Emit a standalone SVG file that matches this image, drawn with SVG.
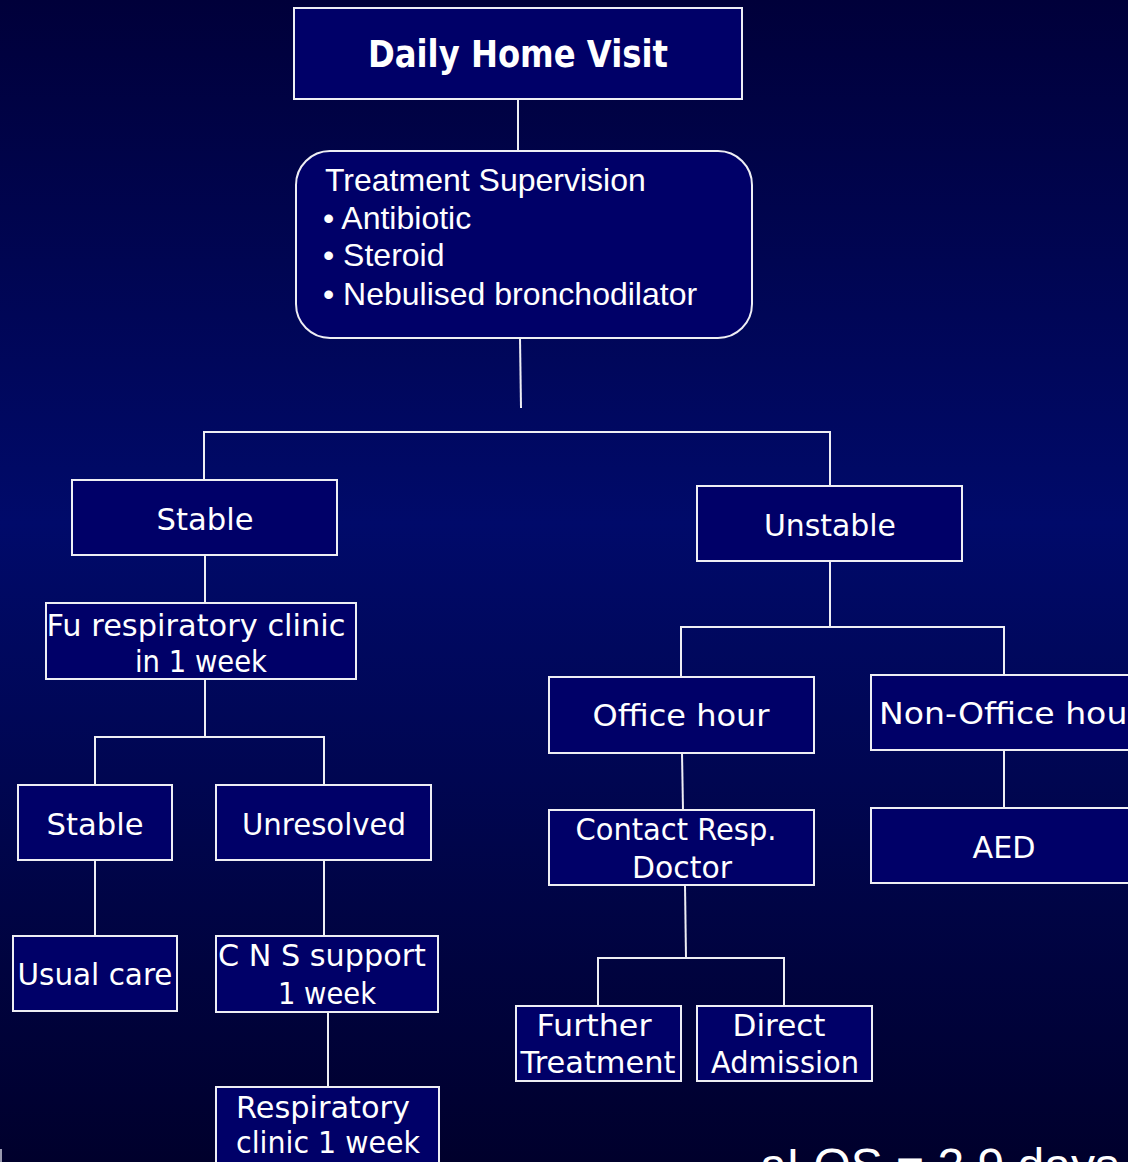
<svg xmlns="http://www.w3.org/2000/svg" width="1128" height="1162" viewBox="0 0 1128 1162">
<defs>
<linearGradient id="bg" x1="0" y1="0" x2="0" y2="1">
<stop offset="0" stop-color="#00003a"/>
<stop offset="0.45" stop-color="#000a6a"/>
<stop offset="1" stop-color="#00002c"/>
</linearGradient>
<style>
.box{fill:#000068;stroke:#eeeef4;stroke-width:2}
.lbl{font-family:"Comic Sans MS","DejaVu Sans",sans-serif;font-size:31px;fill:#ffffff;text-anchor:middle}
.title{font-family:"Comic Sans MS","DejaVu Sans",sans-serif;font-size:37px;font-weight:bold;fill:#ffffff;text-anchor:middle}
.ar{font-family:"Liberation Sans",Arial,sans-serif;font-size:32px;fill:#ffffff}
.ln{stroke:#eeeef4;stroke-width:2;fill:none}
</style>
</defs>
<rect x="0" y="0" width="1128" height="1162" fill="url(#bg)"/>

<g id="connectors">
<line class="ln" x1="518" y1="99" x2="518" y2="151"/>
<line class="ln" x1="520" y1="338" x2="521" y2="408"/>
<polyline class="ln" points="204,480 204,432 830,432 830,486"/>
<line class="ln" x1="205" y1="555" x2="205" y2="603"/>
<line class="ln" x1="205" y1="679" x2="205" y2="737"/>
<polyline class="ln" points="95,785 95,737 324,737 324,785"/>
<line class="ln" x1="95" y1="860" x2="95" y2="936"/>
<line class="ln" x1="324" y1="860" x2="324" y2="936"/>
<line class="ln" x1="328" y1="1012" x2="328" y2="1087"/>
<line class="ln" x1="830" y1="561" x2="830" y2="627"/>
<polyline class="ln" points="681,677 681,627 1004,627 1004,675"/>
<line class="ln" x1="1004" y1="750" x2="1004" y2="808"/>
<line class="ln" x1="682" y1="753" x2="683" y2="810"/>
<line class="ln" x1="685" y1="885" x2="686" y2="958"/>
<polyline class="ln" points="598,1006 598,958 784,958 784,1006"/>
</g>

<g id="daily-home-visit">
<rect class="box" x="294" y="8" width="448" height="91"/>
<text class="title" x="518" y="67" textLength="300" lengthAdjust="spacingAndGlyphs">Daily Home Visit</text>
</g>

<g id="treatment-supervision">
<rect class="box" x="296" y="151" width="456" height="187" rx="34" ry="34"/>
<text class="ar" x="325" y="191">Treatment Supervision</text>
<text class="ar" x="323" y="229">• Antibiotic</text>
<text class="ar" x="323" y="266">• Steroid</text>
<text class="ar" x="323" y="305">• Nebulised bronchodilator</text>
</g>

<g id="stable">
<rect class="box" x="72" y="480" width="265" height="75"/>
<text class="lbl" x="205" y="530" textLength="97" lengthAdjust="spacingAndGlyphs">Stable</text>
</g>

<g id="unstable">
<rect class="box" x="697" y="486" width="265" height="75"/>
<text class="lbl" x="830" y="536" textLength="132" lengthAdjust="spacingAndGlyphs">Unstable</text>
</g>

<g id="fu-respiratory-clinic">
<rect class="box" x="46" y="603" width="310" height="76"/>
<text class="lbl" x="196" y="636" textLength="299" lengthAdjust="spacingAndGlyphs">Fu respiratory clinic</text>
<text class="lbl" x="201" y="672" textLength="132" lengthAdjust="spacingAndGlyphs">in 1 week</text>
</g>

<g id="stable-2">
<rect class="box" x="18" y="785" width="154" height="75"/>
<text class="lbl" x="95" y="835" textLength="97" lengthAdjust="spacingAndGlyphs">Stable</text>
</g>

<g id="unresolved">
<rect class="box" x="216" y="785" width="215" height="75"/>
<text class="lbl" x="324" y="835" textLength="164" lengthAdjust="spacingAndGlyphs">Unresolved</text>
</g>

<g id="usual-care">
<rect class="box" x="13" y="936" width="164" height="75"/>
<text class="lbl" x="95" y="985" textLength="155" lengthAdjust="spacingAndGlyphs">Usual care</text>
</g>

<g id="cns-support">
<rect class="box" x="216" y="936" width="222" height="76"/>
<text class="lbl" x="322" y="966" textLength="208" lengthAdjust="spacingAndGlyphs">C N S support</text>
<text class="lbl" x="327" y="1004" textLength="98" lengthAdjust="spacingAndGlyphs">1 week</text>
</g>

<g id="respiratory-clinic">
<rect class="box" x="216" y="1087" width="223" height="90"/>
<text class="lbl" x="323" y="1118" textLength="174" lengthAdjust="spacingAndGlyphs">Respiratory</text>
<text class="lbl" x="328" y="1153" textLength="184" lengthAdjust="spacingAndGlyphs">clinic 1 week</text>
</g>

<g id="office-hour">
<rect class="box" x="549" y="677" width="265" height="76"/>
<text class="lbl" x="681" y="726" textLength="177" lengthAdjust="spacingAndGlyphs">Office hour</text>
</g>

<g id="non-office-hour">
<rect class="box" x="871" y="675" width="266" height="75"/>
<text class="lbl" x="1010" y="724" textLength="262" lengthAdjust="spacingAndGlyphs">Non-Office hour</text>
</g>

<g id="aed">
<rect class="box" x="871" y="808" width="266" height="75"/>
<text class="lbl" x="1004" y="858" textLength="63" lengthAdjust="spacingAndGlyphs">AED</text>
</g>

<g id="contact-resp-doctor">
<rect class="box" x="549" y="810" width="265" height="75"/>
<text class="lbl" x="676" y="840" textLength="201" lengthAdjust="spacingAndGlyphs">Contact Resp.</text>
<text class="lbl" x="682" y="878" textLength="100" lengthAdjust="spacingAndGlyphs">Doctor</text>
</g>

<g id="further-treatment">
<rect class="box" x="516" y="1006" width="165" height="75"/>
<text class="lbl" x="594" y="1036" textLength="115" lengthAdjust="spacingAndGlyphs">Further</text>
<text class="lbl" x="598" y="1073" textLength="155" lengthAdjust="spacingAndGlyphs">Treatment</text>
</g>

<g id="direct-admission">
<rect class="box" x="697" y="1006" width="175" height="75"/>
<text class="lbl" x="779" y="1036" textLength="93" lengthAdjust="spacingAndGlyphs">Direct</text>
<text class="lbl" x="785" y="1073" textLength="148" lengthAdjust="spacingAndGlyphs">Admission</text>
</g>

<rect x="0" y="1149" width="2" height="13" fill="#9a9ab0"/>
<text x="760" y="1182" font-family="Liberation Sans, Arial, sans-serif" font-size="48" fill="#ffffff">aLOS = 2.9 days</text>
</svg>
